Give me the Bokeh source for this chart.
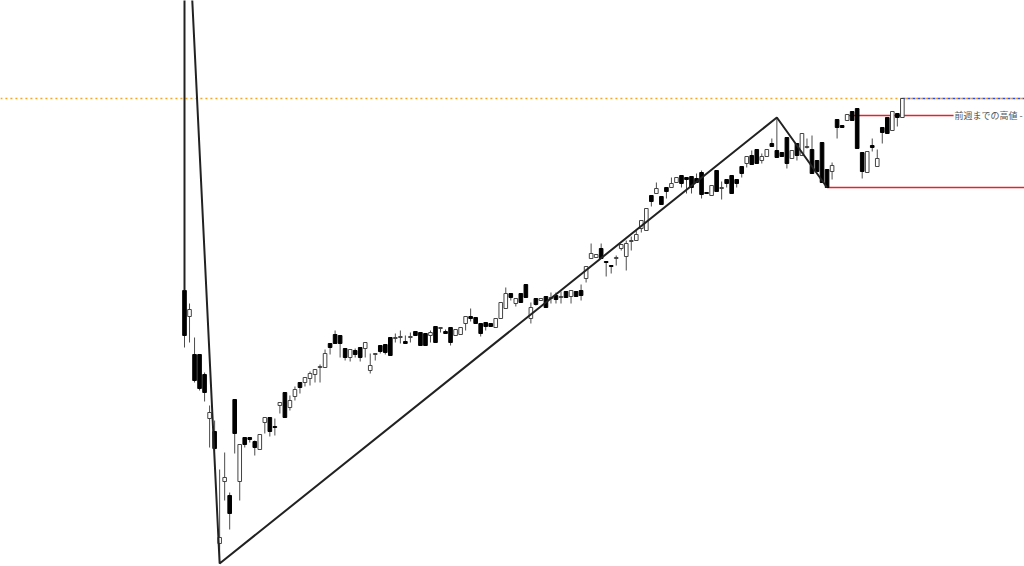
from bokeh.plotting import figure
from bokeh.models import Range1d, ColumnDataSource
from bokeh.core.properties import value
from bokeh.embed import file_html
from bokeh.resources import INLINE

opens = [310,284,246,246,226,182,169,57,119,105,201,119,163,163,159,151,178,183,174,195,
         208,193,204,218,218,222,226,233,233,257,266,265,252,243,250,253,252,230,246,255,
         256,263,262,263,259,263,269,268,267,265,274,272,269,273,265,266,277,284,283,277,
         278,277,273,282,292,307,297,307,316,282,302,300,304,302,305,303,309,304,309,310,
         322,342,343,352,339,335,342,352,344,359,360,372,370,405,407,404,413,413,418,425,
         423,424,422,428,408,405,430,412,421,425,421,434,437,445,451,440,444,457,450,448,
         463,442,457,445,453,451,440,458,431,429,481,475,480,489,492,448,428,455,434,473,
         483,470,487,483]
highs = [310,297,263,246,228,195,180,131,148,108,201,156,163,163,160,166,183,183,182,198,
         208,205,214,218,223,229,231,236,251,257,270,265,252,251,252,253,258,247,247,255,
         256,263,267,270,265,268,269,268,267,270,274,273,271,273,271,273,284,292,283,277,
         278,277,282,298,313,307,302,307,316,298,302,302,304,308,308,309,309,310,309,316,
         334,357,346,357,339,335,345,356,360,364,370,380,392,405,418,404,413,423,423,425,
         423,424,427,430,408,415,430,419,421,425,421,434,444,450,451,447,451,462,483,448,
         463,450,457,467,462,465,440,458,431,438,481,475,486,489,492,448,449,462,451,473,
         483,489,487,502]
lows = [253,258,218,210,199,153,150,37,100,71,147,100,153,158,145,151,167,164,165,187,
        183,190,200,207,214,215,218,218,233,246,257,243,240,239,243,239,243,227,240,247,
        246,245,258,257,257,258,265,255,255,258,258,268,267,255,265,266,270,279,277,264,
        270,274,273,282,292,300,294,298,303,277,295,300,293,297,297,297,303,297,304,300,
        318,342,343,342,324,327,335,350,330,350,360,368,370,394,407,396,402,413,418,413,
        407,407,418,402,407,405,409,401,413,407,413,423,433,436,437,437,444,454,443,444,
        432,442,440,445,452,427,429,418,413,421,462,473,480,480,452,422,428,449,434,457,
        467,470,474,483]
closes = [265,291,220,212,208,188,152,63,123,87,167,156,156,161,153,166,183,169,173,198,
          183,200,211,213,223,227,231,234,247,253,257,257,243,251,246,243,258,235,247,249,
          248,245,263,264,257,264,265,255,255,268,258,273,267,258,271,273,284,282,277,267,
          274,274,282,298,307,303,302,298,303,293,296,302,293,303,301,304,303,310,304,305,
          334,347,346,342,338,334,343,356,357,360,366,380,392,399,412,396,409,417,423,417,
          421,413,418,406,407,415,409,413,417,407,417,427,444,436,437,444,451,454,443,444,
          437,450,445,467,454,427,429,418,413,435,473,473,486,480,452,429,449,453,442,468,
          467,489,483,502]

zigzag_index = [0, 0, 7, 118, 128]
zigzag_price = [310, 760, 37, 483, 413]

weekly_high = 485          # 前週までの高値
recent_low = 413
current_level = 502
label_text = "前週までの高値 -"

n = len(opens)
idx = list(range(n))
up = [c >= o for o, c in zip(opens, closes)]

def pick(lst, flags):
    return [v for v, f in zip(lst, flags) if f]

down_flags = [not u for u in up]
src_up = ColumnDataSource(dict(x=pick(idx, up), top=pick(closes, up), bottom=pick(opens, up)))
src_dn = ColumnDataSource(dict(x=pick(idx, down_flags), top=pick(opens, down_flags), bottom=pick(closes, down_flags)))
src_w = ColumnDataSource(dict(x=idx, h=highs, l=lows))

step = 5.02
x0px = 184
x_lo = (0 - x0px) / step
x_hi = (1024 - x0px) / step

p = figure(width=1024, height=566, output_backend="svg", toolbar_location=None,
           x_range=Range1d(x_lo, x_hi), y_range=Range1d(34, 600),
           min_border=0, min_border_left=0, min_border_right=0, min_border_top=0, min_border_bottom=0)
p.axis.visible = False
p.grid.visible = False
p.outline_line_color = None
p.background_fill_color = "white"
p.border_fill_color = "white"

# horizontal levels
p.segment(x0=[143.0], y0=[current_level], x1=[x_hi + 5], y1=[current_level],
          line_color="#1f4fff", line_width=1.6, line_dash="3 2")
p.segment(x0=[x_lo - 5], y0=[current_level], x1=[x_hi + 5], y1=[current_level],
          line_color="#f5a623", line_width=1.5, line_dash="2 3")
p.segment(x0=[132.1], y0=[weekly_high], x1=[153.2], y1=[weekly_high],
          line_color="#e8202a", line_width=1.5)
p.segment(x0=[128], y0=[recent_low], x1=[x_hi + 5], y1=[recent_low],
          line_color="#e8202a", line_width=1.5)

# candles
p.segment(x0="x", y0="l", x1="x", y1="h", source=src_w, line_color="#4d4d4d", line_width=1)
p.vbar(x="x", top="top", bottom="bottom", width=0.72, source=src_up,
       fill_color="white", line_color="#444444", line_width=1)
p.vbar(x="x", top="top", bottom="bottom", width=0.72, source=src_dn,
       fill_color="black", line_color="black", line_width=1)

# zigzag
p.line(zigzag_index, zigzag_price, line_color="#222222", line_width=2)

p.text(x=[153.4], y=[weekly_high], text=[label_text], text_font=value("Noto Sans CJK JP"),
       text_font_size="9px", text_color="#555555", text_baseline="middle", text_align="left")

open("out.html", "w").write(file_html(p, INLINE))
